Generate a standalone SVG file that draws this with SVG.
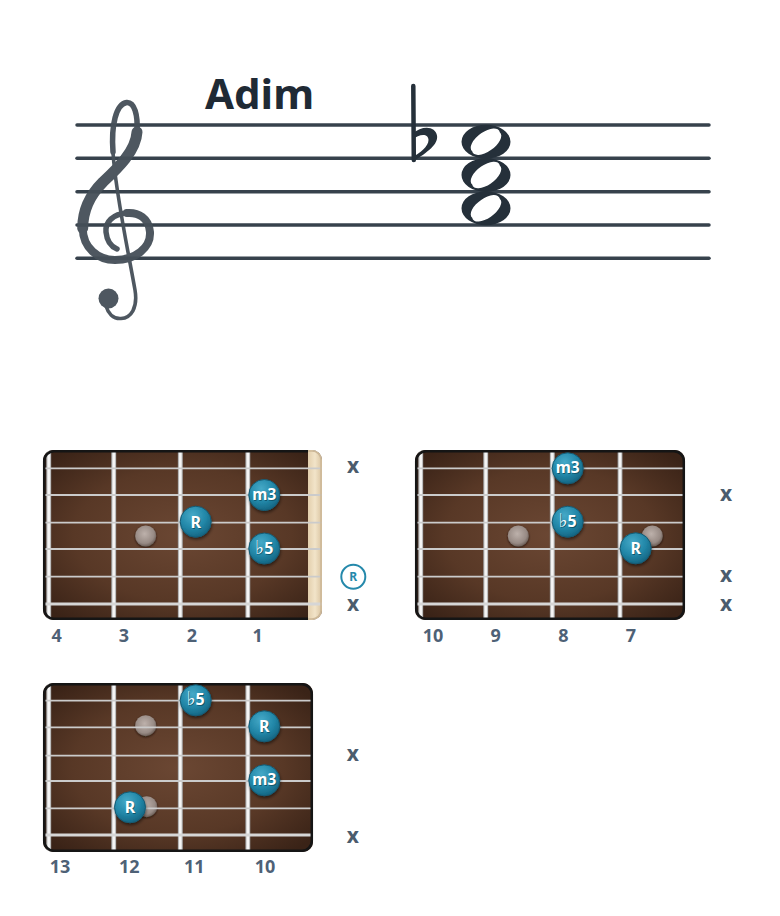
<svg xmlns="http://www.w3.org/2000/svg" width="780" height="916" viewBox="0 0 780 916">
<style>
.staff{stroke:#37424c;stroke-width:3.5;stroke-linecap:round;fill:none}
.clef{stroke:#454f58;fill:none;stroke-linecap:round;stroke-linejoin:round}
.ink{fill:#25303a}
.title{font-family:"Noto Sans","DejaVu Sans",sans-serif;font-weight:700;font-size:42px;fill:#1f2a35}
.fret{fill:url(#fretg)}
.str{stroke:#cbcbcb;stroke-width:1.8}
.str6{stroke:#d6d6d6;stroke-width:3}
.border{fill:none;stroke:#151515;stroke-width:2.5}
.nl{font-family:"Noto Sans","DejaVu Sans",sans-serif;font-weight:700;fill:#fff;text-anchor:middle}
.nls{font-family:"Noto Sans","DejaVu Sans",sans-serif;font-weight:700;fill:#0c4558;text-anchor:middle;opacity:.7}
.num{font-family:"Noto Sans","DejaVu Sans",sans-serif;font-weight:700;font-size:18px;fill:#4e6176;text-anchor:middle}
.mx{font-family:"Noto Sans","DejaVu Sans",sans-serif;font-weight:700;font-size:21px;fill:#4b5c6d;text-anchor:middle}
.fl{font-family:"DejaVu Sans",sans-serif;font-weight:400;font-size:19px}
</style>
<defs>
<radialGradient id="wood" cx="50%" cy="50%" r="65%">
<stop offset="0" stop-color="#6b4733"/>
<stop offset="0.6" stop-color="#583826"/>
<stop offset="1" stop-color="#3a2317"/>
</radialGradient>
<linearGradient id="fretg" x1="0" y1="0" x2="1" y2="0">
<stop offset="0" stop-color="#8a8a8a"/>
<stop offset="0.35" stop-color="#f5f5f5"/>
<stop offset="0.65" stop-color="#f5f5f5"/>
<stop offset="1" stop-color="#979797"/>
</linearGradient>
<linearGradient id="nutg" x1="0" y1="0" x2="1" y2="0">
<stop offset="0" stop-color="#e3cfad"/>
<stop offset="0.5" stop-color="#f2e4c9"/>
<stop offset="1" stop-color="#d9c3a0"/>
</linearGradient>
<radialGradient id="teal" cx="40%" cy="30%" r="70%">
<stop offset="0" stop-color="#45a9c7"/>
<stop offset="0.6" stop-color="#2287a8"/>
<stop offset="1" stop-color="#166784"/>
</radialGradient>
<radialGradient id="inlay" cx="45%" cy="40%" r="60%">
<stop offset="0" stop-color="#bdb1ab"/>
<stop offset="0.75" stop-color="#978a84"/>
<stop offset="1" stop-color="#6d5f58"/>
</radialGradient>
<filter id="sh" x="-40%" y="-40%" width="180%" height="180%">
<feDropShadow dx="0.5" dy="2" stdDeviation="1.5" flood-color="#000" flood-opacity="0.5"/>
</filter>
<filter id="sh2" x="-40%" y="-40%" width="180%" height="180%">
<feDropShadow dx="0" dy="1" stdDeviation="1.2" flood-color="#1a0c05" flood-opacity="0.8"/>
</filter>
<circle id="note" r="15.5" fill="url(#teal)" stroke="#145a73" stroke-width="1"/>
<circle id="dot" r="10.5" fill="url(#inlay)"/>
<clipPath id="c1"><rect x="0" y="0" width="279" height="170" rx="10"/></clipPath>
<clipPath id="c2"><rect x="0" y="0" width="270" height="170" rx="10"/></clipPath>
<clipPath id="c3"><rect x="0" y="0" width="270" height="169" rx="10"/></clipPath>
</defs>
<rect width="780" height="916" fill="#fff"/>

<g id="title"><text class="title" x="205" y="109">Adim</text></g>

<g id="staff">
<line class="staff" x1="77" y1="125" x2="709" y2="125"/>
<line class="staff" x1="77" y1="158.3" x2="709" y2="158.3"/>
<line class="staff" x1="77" y1="191.7" x2="709" y2="191.7"/>
<line class="staff" x1="77" y1="225" x2="709" y2="225"/>
<line class="staff" x1="77" y1="258.3" x2="709" y2="258.3"/>
</g>

<g id="clef" opacity="0.95">
<path class="clef" stroke-width="5.5" d="M113 152 C111 125 116 104 126.7 102.5 C134.5 102 138 115 137 132"/>
<path class="clef" stroke-width="11" d="M137 132 C136 151 118 168 103 182 C90 195 82.7 210 82.7 228.3"/>
<path class="clef" stroke-width="8" d="M82.7 228.3 C83 248 98 260 115 260 C135 260 151 248 150 232 C149 218 138 212 127 213"/>
<path class="clef" stroke-width="5.5" d="M127 213 C113 214 105 222 106 232 C107 242 112 247 117 249"/>
<path class="clef" stroke-width="3.6" d="M113 152 C115 190 128 250 135 290 C138 308 131 318 121 318.5 C113 319 108 313 106 306"/>
<circle cx="108.5" cy="298.5" r="10" fill="#454f58"/>
</g>

<g id="flat">
<line x1="413.3" y1="86" x2="413.8" y2="160" stroke="#25303a" stroke-width="4.5" stroke-linecap="round"/>
<path class="ink" fill-rule="evenodd" d="M413 161.5 C428 152 438.5 144 437 135.5 C435.5 126.5 423 124.5 412 134 L412 140 C420 133 428.5 133.5 428.5 140 C428.5 146.5 420 153 412 157.5 Z"/>
</g>

<g id="chord-notes" class="ink">
<path fill-rule="evenodd" d="M461.5 141.7 A24.5 16.9 0 1 0 510.5 141.7 A24.5 16.9 0 1 0 461.5 141.7 Z M472.2 151.2 A17 8.3 -36 1 0 499.8 132.2 A17 8.3 -36 1 0 472.2 151.2 Z"/>
<path fill-rule="evenodd" d="M461.5 175 A24.5 16.9 0 1 0 510.5 175 A24.5 16.9 0 1 0 461.5 175 Z M472.2 184.5 A17 8.3 -36 1 0 499.8 165.5 A17 8.3 -36 1 0 472.2 184.5 Z"/>
<path fill-rule="evenodd" d="M461.5 208.3 A24.5 16.9 0 1 0 510.5 208.3 A24.5 16.9 0 1 0 461.5 208.3 Z M472.2 217.8 A17 8.3 -36 1 0 499.8 198.8 A17 8.3 -36 1 0 472.2 217.8 Z"/>
</g>

<!-- Board 1 -->
<g id="board1" transform="translate(43,450)">
<g clip-path="url(#c1)">
<rect width="279" height="170" fill="url(#wood)"/>
<rect x="265" width="14" height="170" fill="url(#nutg)"/>
<use href="#dot" x="102.7" y="86" filter="url(#sh2)"/>
<rect class="fret" x="3.2" y="0" width="5" height="170"/>
<rect class="fret" x="68.2" y="0" width="5" height="170"/>
<rect class="fret" x="134.8" y="0" width="5" height="170"/>
<rect class="fret" x="202.3" y="0" width="5" height="170"/>
<line class="str" x1="0" y1="18.3" x2="279" y2="18.3"/>
<line class="str" x1="0" y1="45" x2="279" y2="45"/>
<line class="str" x1="0" y1="72.7" x2="279" y2="72.7"/>
<line class="str" x1="0" y1="99" x2="279" y2="99"/>
<line class="str" x1="0" y1="126.7" x2="279" y2="126.7"/>
<line class="str6" x1="0" y1="154" x2="279" y2="154"/>
</g>
<path class="border" d="M265 1.2 H11 A9.8 9.8 0 0 0 1.2 11 V159 A9.8 9.8 0 0 0 11 168.8 H265"/>
<path fill="none" stroke="#cdb898" stroke-width="1.5" d="M265 1 H269 A9 9 0 0 1 278 10 V160 A9 9 0 0 1 269 169 H265"/>
<use href="#note" x="221.3" y="45" filter="url(#sh)"/>
<text class="nls" x="222.1" y="51" font-size="15.5">m3</text>
<text class="nl" x="221.3" y="50" font-size="15.5">m3</text>
<use href="#note" x="152.7" y="71.7" filter="url(#sh)"/>
<text class="nls" x="153.5" y="78.5" font-size="16">R</text>
<text class="nl" x="152.7" y="77.5" font-size="16">R</text>
<use href="#note" x="221.3" y="98.5" filter="url(#sh)"/>
<text class="nls" x="222.1" y="104.5" font-size="16"><tspan class="fl">♭</tspan>5</text>
<text class="nl" x="221.3" y="103.5" font-size="16"><tspan class="fl">♭</tspan>5</text>
</g>
<g id="board1-labels">
<text class="mx" x="353" y="473">x</text>
<circle cx="353.3" cy="576.7" r="12" fill="#fff" stroke="#2589ab" stroke-width="2"/>
<text x="353.3" y="581" font-family="Noto Sans, DejaVu Sans, sans-serif" font-weight="700" font-size="12" fill="#2589ab" text-anchor="middle">R</text>
<text class="mx" x="353" y="611">x</text>
<text class="num" x="56.7" y="642">4</text>
<text class="num" x="124" y="642">3</text>
<text class="num" x="192" y="642">2</text>
<text class="num" x="257.7" y="642">1</text>
</g>

<!-- Board 2 -->
<g id="board2" transform="translate(415,450)">
<g clip-path="url(#c2)">
<rect width="270" height="170" fill="url(#wood)"/>
<use href="#dot" x="103.3" y="86" filter="url(#sh2)"/>
<use href="#dot" x="237.3" y="86" filter="url(#sh2)"/>
<rect class="fret" x="3.2" y="0" width="5" height="170"/>
<rect class="fret" x="68.2" y="0" width="5" height="170"/>
<rect class="fret" x="134.8" y="0" width="5" height="170"/>
<rect class="fret" x="202.5" y="0" width="5" height="170"/>
<line class="str" x1="0" y1="18.3" x2="270" y2="18.3"/>
<line class="str" x1="0" y1="45" x2="270" y2="45"/>
<line class="str" x1="0" y1="72.7" x2="270" y2="72.7"/>
<line class="str" x1="0" y1="99" x2="270" y2="99"/>
<line class="str" x1="0" y1="126.7" x2="270" y2="126.7"/>
<line class="str6" x1="0" y1="154" x2="270" y2="154"/>
</g>
<rect class="border" x="1.2" y="1.2" width="267.6" height="167.6" rx="9.8"/>
<use href="#note" x="152.7" y="18.3" filter="url(#sh)"/>
<text class="nls" x="153.5" y="24.3" font-size="15.5">m3</text>
<text class="nl" x="152.7" y="23.3" font-size="15.5">m3</text>
<use href="#note" x="152.7" y="71.7" filter="url(#sh)"/>
<text class="nls" x="153.5" y="77.7" font-size="16"><tspan class="fl">♭</tspan>5</text>
<text class="nl" x="152.7" y="76.7" font-size="16"><tspan class="fl">♭</tspan>5</text>
<use href="#note" x="220.7" y="98.3" filter="url(#sh)"/>
<text class="nls" x="221.5" y="105.1" font-size="16">R</text>
<text class="nl" x="220.7" y="104.1" font-size="16">R</text>
</g>
<g id="board2-labels">
<text class="mx" x="726" y="501">x</text>
<text class="mx" x="726" y="582">x</text>
<text class="mx" x="726" y="611">x</text>
<text class="num" x="433" y="642">10</text>
<text class="num" x="495.7" y="642">9</text>
<text class="num" x="563.3" y="642">8</text>
<text class="num" x="631" y="642">7</text>
</g>

<!-- Board 3 -->
<g id="board3" transform="translate(43,683)">
<g clip-path="url(#c3)">
<rect width="270" height="169" fill="url(#wood)"/>
<use href="#dot" x="102.7" y="42.7" filter="url(#sh2)"/>
<use href="#dot" x="103.7" y="123.7" filter="url(#sh2)"/>
<rect class="fret" x="3.2" y="0" width="5" height="169"/>
<rect class="fret" x="68.2" y="0" width="5" height="169"/>
<rect class="fret" x="134.8" y="0" width="5" height="169"/>
<rect class="fret" x="202.3" y="0" width="5" height="169"/>
<line class="str" x1="0" y1="17.7" x2="270" y2="17.7"/>
<line class="str" x1="0" y1="44.3" x2="270" y2="44.3"/>
<line class="str" x1="0" y1="72.7" x2="270" y2="72.7"/>
<line class="str" x1="0" y1="98" x2="270" y2="98"/>
<line class="str" x1="0" y1="125.3" x2="270" y2="125.3"/>
<line class="str6" x1="0" y1="152" x2="270" y2="152"/>
</g>
<rect class="border" x="1.2" y="1.2" width="267.6" height="166.6" rx="9.8"/>
<use href="#note" x="152.7" y="17.3" filter="url(#sh)"/>
<text class="nls" x="153.5" y="23.3" font-size="16"><tspan class="fl">♭</tspan>5</text>
<text class="nl" x="152.7" y="22.3" font-size="16"><tspan class="fl">♭</tspan>5</text>
<use href="#note" x="221.3" y="43.3" filter="url(#sh)"/>
<text class="nls" x="222.1" y="50.1" font-size="16">R</text>
<text class="nl" x="221.3" y="49.1" font-size="16">R</text>
<use href="#note" x="221.3" y="97.3" filter="url(#sh)"/>
<text class="nls" x="222.1" y="103.3" font-size="15.5">m3</text>
<text class="nl" x="221.3" y="102.3" font-size="15.5">m3</text>
<use href="#note" x="87" y="124.3" filter="url(#sh)"/>
<text class="nls" x="87.8" y="131.1" font-size="16">R</text>
<text class="nl" x="87" y="130.1" font-size="16">R</text>
</g>
<g id="board3-labels">
<text class="mx" x="352.7" y="761">x</text>
<text class="mx" x="352.7" y="843">x</text>
<text class="num" x="60" y="873">13</text>
<text class="num" x="129.3" y="873">12</text>
<text class="num" x="194.3" y="873">11</text>
<text class="num" x="265" y="873">10</text>
</g>
</svg>
